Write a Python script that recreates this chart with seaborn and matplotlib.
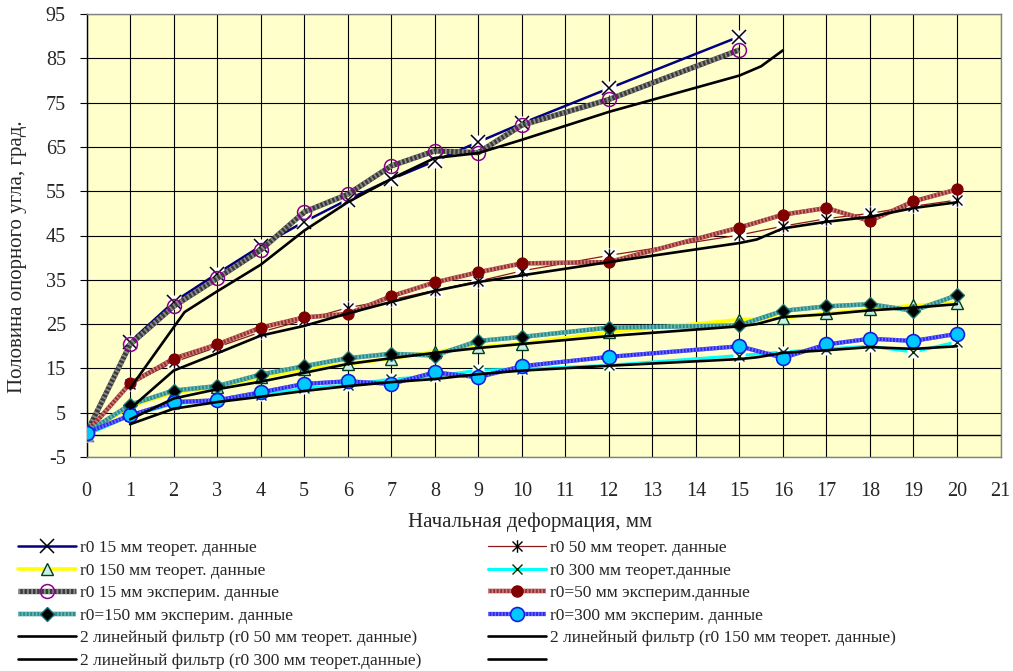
import matplotlib
matplotlib.use("Agg")
import matplotlib.pyplot as plt
import seaborn as sns
import pandas as pd
from matplotlib.lines import Line2D
from matplotlib.path import Path
from matplotlib.legend_handler import HandlerTuple

# Initial deformation, mm
x_full = [0, 1, 2, 3, 4, 5, 6, 7, 8, 9, 10, 12, 15, 16, 17, 18, 19, 20]
x_r15 = [0, 1, 2, 3, 4, 5, 6, 7, 8, 9, 10, 12, 15]

# Half of the support angle, degrees
r15_theor = [0, 21.0, 30.0, 36.4, 42.6, 48.1, 53.1, 57.7, 61.8, 66.1, 70.3, 78.2, 89.9]
r50_theor = [0, 11.5, 16.4, 19.8, 23.2, 25.9, 28.7, 30.5, 32.6, 34.7, 37.0, 40.5,
             45.1, 47.1, 48.8, 50.0, 51.6, 53.0]
r150_theor = [0, 6.5, 9.5, 10.8, 13.0, 14.8, 16.0, 17.2, 18.8, 19.8, 20.6, 23.2,
              26.0, 26.4, 27.4, 28.3, 29.2, 29.8]
r300_theor = [0, 4.3, 7.0, 7.8, 8.9, 10.5, 11.2, 12.6, 13.2, 14.6, 14.8, 15.7,
              17.9, 18.7, 19.4, 20.0, 18.7, 21.0]

r15_exp = [0.5, 20.4, 29.0, 35.3, 41.7, 50.3, 54.3, 60.7, 64.1, 63.7, 69.9, 75.7, 86.9]
r50_exp = [0.5, 11.6, 17.2, 20.4, 24.2, 26.5, 27.3, 31.3, 34.4, 36.7, 38.7, 39.0,
           46.8, 49.7, 51.2, 48.3, 52.7, 55.4]
r150_exp = [0.5, 6.8, 10.0, 11.0, 13.6, 15.5, 17.3, 18.3, 17.9, 21.2, 22.1, 24.2,
            24.7, 28.0, 29.0, 29.5, 28.0, 31.5]
r300_exp = [0.5, 4.4, 7.4, 7.8, 9.6, 11.5, 12.1, 11.5, 14.1, 13.0, 15.5, 17.6,
            20.0, 17.4, 20.4, 21.7, 21.2, 22.8]

# Two-point moving-average filter lines
f15_x = [1, 2.25, 3, 4, 5, 6, 7, 8, 9, 10, 12, 15, 15.5, 16]
f15_y = [10.5, 27.7, 32.4, 38.4, 46.1, 52.5, 57.8, 62.5, 63.6, 66.6, 72.9, 81.1, 83.2, 86.8]
f_x = [1, 2, 3, 4, 5, 6, 7, 8, 9, 10, 12, 15, 15.4, 16, 17, 18, 19, 20]
f50_y = [5.9, 14.5, 18.4, 22.4, 24.6, 27.4, 30.0, 32.5, 34.5, 36.0, 39.0, 43.3,
         44.1, 46.6, 48.1, 49.2, 51.2, 52.5]
f150_y = [3.5, 8.2, 10.3, 12.0, 14.0, 16.0, 17.3, 18.5, 19.6, 20.5, 22.3, 24.5,
          25.0, 26.6, 27.2, 28.1, 28.7, 29.5]
f300_y = [2.4, 5.9, 7.4, 8.6, 9.9, 11.0, 11.9, 12.6, 13.7, 14.5, 15.6, 17.1,
          17.5, 18.5, 19.1, 19.8, 19.4, 20.0]

x_ticks = list(range(0, 22))
y_ticks = list(range(-5, 96, 10))

labels = {
    "r15t": "r0 15 мм теорет. данные",
    "r50t": "r0 50 мм теорет. данные",
    "r150t": "r0 150 мм теорет. данные",
    "r300t": "r0 300 мм теорет.данные",
    "r15e": "r0 15 мм эксперим. данные",
    "r50e": "r0=50 мм эксперим.данные",
    "r150e": "r0=150 мм эксперим. данные",
    "r300e": "r0=300 мм эксперим. данные",
    "f50": "2 линейный фильтр (r0 50 мм теорет. данные)",
    "f150": "2 линейный фильтр (r0 150 мм теорет. данные)",
    "f300": "2 линейный фильтр (r0 300 мм теорет.данные)",
}

sns.set_theme(style="white")
plt.rcParams["font.family"] = ["Liberation Serif", "DejaVu Serif"]
plt.rcParams["axes.unicode_minus"] = False

W, H = 1013, 671
fig = plt.figure(figsize=(W / 100, H / 100), dpi=100)
fig.patch.set_facecolor("white")
ax = fig.add_axes([86.6 / W, 1 - 457 / H, (1000.5 - 86.6) / W, (457 - 14) / H])
ax.set_facecolor("#FFFFCC")

ax.set_xlim(0, 21)
ax.set_ylim(-5, 95)
ax.set_xticks(x_ticks)
ax.set_yticks(y_ticks)
ax.grid(True, color="black", lw=0.8)
ax.set_axisbelow(True)
for s in ax.spines.values():
    s.set_color("#808080")
    s.set_linewidth(1.0)
ax.spines["left"].set_color("black")
ax.axhline(0, color="black", lw=1.0, zorder=2)
ax.tick_params(axis="y", which="major", direction="out", length=5, width=0.8,
               color="black", left=True, labelsize=14.5, pad=10)
ax.tick_params(axis="x", which="major", length=0, labelsize=14.5, pad=18)

star = Path([(-1, -1), (1, 1), (-1, 1), (1, -1), (0, -1.25), (0, 1.25)],
            [Path.MOVETO, Path.LINETO, Path.MOVETO, Path.LINETO, Path.MOVETO, Path.LINETO])


def line(x, y, z, **kw):
    sns.lineplot(x=x, y=y, ax=ax, estimator=None, sort=False, legend=False, zorder=z, **kw)


def hatched(x, y, base, light, lw, z):
    line(x, y, z, color=base, lw=lw, solid_capstyle="butt")
    line(x, y, z + 0.1, color=light, lw=lw, dashes=(0.35, 0.45))


def backing(x, y, size, z):
    # white square behind open markers
    line(x, y, z, lw=0, marker="s", ms=size, mfc="white", mec="none")


# theoretical series
line(x_r15, r15_theor, 3, color="#000080", lw=1.8)
backing(x_r15, r15_theor, 10.5, 3.2)
line(x_r15, r15_theor, 3.3, lw=0, marker="x", ms=9.5, mec="black", mew=1.1)

line(x_full, r50_theor, 4, color="#8B1A1A", lw=0.9)
backing(x_full, r50_theor, 10, 4.2)
line(x_full, r50_theor, 4.3, lw=0, marker=star, ms=9, mfc="none", mec="black", mew=1.0)

line(x_full, r150_theor, 5, color="#FFFF00", lw=2.6)
line(x_full, r150_theor, 5.3, lw=0, marker="^", ms=8.5, mfc="#C8F0E4", mec="#004020", mew=1.0)

line(x_full, r300_theor, 6, color="#00FFFF", lw=2.2)
backing(x_full, r300_theor, 8, 6.2)
line(x_full, r300_theor, 6.3, lw=0, marker="x", ms=6.5, mec="#003300", mew=1.0)

# experimental series
hatched(x_r15, r15_exp, "#3A3A3A", "#8A8A8A", 3.8, 7)
line(x_r15, r15_exp, 7.3, lw=0, marker="o", ms=10, mfc="none", mec="#8B008B", mew=1.1)

hatched(x_full, r50_exp, "#9A3030", "#C88080", 3.2, 8)
line(x_full, r50_exp, 8.3, lw=0, marker="o", ms=8, mfc="#800000", mec="#800000", mew=0.8)

hatched(x_full, r150_exp, "#2A8C8C", "#70B8B8", 3.2, 9)
line(x_full, r150_exp, 9.3, lw=0, marker="D", ms=7, mfc="black", mec="#1A7070", mew=1.0)

hatched(x_full, r300_exp, "#2828F0", "#7070FF", 3.0, 10)
line(x_full, r300_exp, 10.3, lw=0, marker="o", ms=10, mfc="#00C8FF", mec="#1020E0", mew=1.2)

# moving-average filters
line(f15_x, f15_y, 11, color="black", lw=1.9)
line(f_x, f50_y, 11, color="black", lw=1.9)
line(f_x, f150_y, 11, color="black", lw=1.9)
line(f_x, f300_y, 11, color="black", lw=1.9)

ax.set_xlabel("")
ax.set_ylabel("")
fig.text(530 / W, 1 - 522 / H, "Начальная деформация, мм", ha="center", va="center", fontsize=15)
fig.text(18 / W, 1 - 257 / H, "Половина опорного угла, град.", ha="center", va="center",
         rotation=90, fontsize=15)


# legend handles
def L(**kw):
    return Line2D([], [], **kw)


def H_hatched(base, light, lw, **mk):
    return (L(color=base, lw=lw, solid_capstyle="butt"),
            L(color=light, lw=lw, dashes=(0.35, 0.45)),
            L(lw=0, **mk))


h = {
    "r15t": (L(color="#000080", lw=1.8), L(lw=0, marker="x", ms=9.5, mec="black", mew=1.1)),
    "r50t": (L(color="#8B1A1A", lw=0.9), L(lw=0, marker=star, ms=9, mfc="none", mec="black", mew=1.0)),
    "r150t": (L(color="#FFFF00", lw=2.6), L(lw=0, marker="^", ms=8.5, mfc="#C8F0E4", mec="#004020", mew=1.0)),
    "r300t": (L(color="#00FFFF", lw=2.2), L(lw=0, marker="x", ms=6.5, mec="#003300", mew=1.0)),
    "r15e": H_hatched("#3A3A3A", "#8A8A8A", 3.8, marker="o", ms=10, mfc="none", mec="#8B008B", mew=1.1),
    "r50e": H_hatched("#9A3030", "#C88080", 3.2, marker="o", ms=8, mfc="#800000", mec="#800000"),
    "r150e": H_hatched("#2A8C8C", "#70B8B8", 3.2, marker="D", ms=7, mfc="black", mec="#1A7070"),
    "r300e": H_hatched("#2828F0", "#7070FF", 3.0, marker="o", ms=10, mfc="#00C8FF", mec="#1020E0", mew=1.2),
    "f50": L(color="black", lw=1.9),
    "f150": L(color="black", lw=1.9),
    "f300": L(color="black", lw=1.9),
    "f15": L(color="black", lw=1.9),
}

left_keys = ["r15t", "r150t", "r15e", "r150e", "f50", "f300"]
right_keys = ["r50t", "r300t", "r50e", "r300e", "f150", "f15"]

leg_fs = 12.5
fs_px = leg_fs * 100 / 72
common = dict(loc="upper left", frameon=False, fontsize=leg_fs, borderpad=0, borderaxespad=0,
              handlelength=58 / fs_px, handletextpad=4 / fs_px, labelspacing=0.365,
              handler_map={tuple: HandlerTuple(ndivide=1, pad=0)})
fig.legend([h[k] for k in left_keys], [labels[k] for k in left_keys],
           bbox_to_anchor=(18 / W, 1 - 540 / H), **common)
fig.legend([h[k] for k in right_keys], [labels.get(k, " ") for k in right_keys],
           bbox_to_anchor=(488 / W, 1 - 540 / H), **common)

fig.savefig("out.png", dpi=100, facecolor="white")
